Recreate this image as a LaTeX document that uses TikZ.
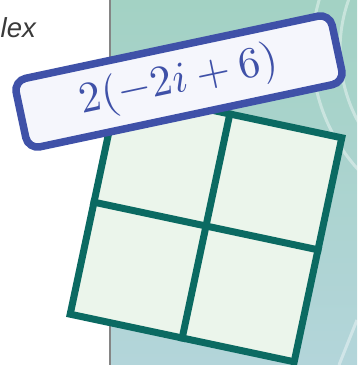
\documentclass[tikz,border=0pt]{standalone}
\usepackage{fontspec}
\newfontfamily\lexfont{Liberation Sans}
\definecolor{bgtop}{HTML}{A3D2C4}
\definecolor{bgbot}{HTML}{B3D5DA}
\definecolor{gridline}{HTML}{0B6A62}
\definecolor{gridfill}{HTML}{EBF5EB}
\definecolor{lblblue}{HTML}{3F51A8}
\definecolor{lblfill}{HTML}{F5F6FC}
\definecolor{dividergray}{HTML}{858585}
\definecolor{lextext}{HTML}{3A3A3A}
\begin{document}
\begin{tikzpicture}[x=1pt,y=1pt,
  gridbox/.style={draw=gridline, fill=gridfill, line width=7pt, minimum size=229pt, inner sep=0pt, rotate=-12},
  gridrule/.style={draw=gridline, line width=7pt},
  tag/.style={draw=lblblue, fill=lblfill, line width=7.5pt, rounded corners=12pt, minimum width=323pt, minimum height=70pt, inner sep=0pt, rotate=12, text=lblblue},
  arcline/.style={draw=white, draw opacity=0.4, line width=3pt},
]
\useasboundingbox (0,0) rectangle (357,365);
\clip (0,0) rectangle (357,365);
\fill[white] (0,0) rectangle (357,365);
\shade[top color=bgtop, bottom color=bgbot] (110,0) rectangle (357,365);
\draw[dividergray, line width=1.2pt] (110,0) -- (110,365);
\draw[arcline] (490,315) circle (178pt);
\draw[arcline] (490,315) circle (150pt);
\coordinate (d1) at (357,45);
\coordinate (d2) at (339,0);
\draw[arcline] (d1) -- (d2);
\node[gridbox] (sq) at (206,139) {};
\draw[gridrule] (sq.north) -- (sq.south);
\draw[gridrule] (sq.west) -- (sq.east);
\node[tag] (lbl) at (179,283.5) {\scalebox{4.35}{$2(-2i+6)$}};
\node[anchor=base east, inner sep=0pt, text=lextext, font=\fontsize{27.5}{30}\selectfont\lexfont\itshape] (lex) at (36,327) {lex};
\end{tikzpicture}
\end{document}
